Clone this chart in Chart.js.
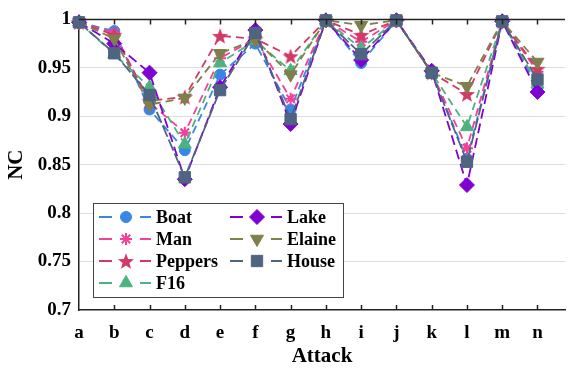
<!DOCTYPE html>
<html>
<head>
<meta charset="utf-8">
<script src="https://cdn.jsdelivr.net/npm/chart.js@4.4.0/dist/chart.umd.min.js"></script>
<style>
  html, body { margin: 0; padding: 0; background: #ffffff; }
  #wrap { width: 575px; height: 369px; position: relative; }
</style>
</head>
<body>
<div id="wrap"><canvas id="ncChart"></canvas></div>
<script>
// ======================================================
// DATA
// ======================================================

const attacks = ["a", "b", "c", "d", "e", "f", "g", "h", "i", "j", "k", "l", "m", "n"];

const boat    = [0.997, 0.988, 0.907, 0.865, 0.943, 0.975, 0.907, 0.999, 0.955, 0.999, 0.945, 0.856, 0.998, 0.930];
const man     = [0.997, 0.986, 0.914, 0.883, 0.960, 0.980, 0.918, 0.999, 0.977, 0.999, 0.945, 0.867, 0.998, 0.946];
const peppers = [0.997, 0.984, 0.916, 0.920, 0.983, 0.980, 0.962, 0.999, 0.984, 0.999, 0.945, 0.923, 0.998, 0.949];
const f16     = [0.997, 0.964, 0.930, 0.871, 0.955, 0.978, 0.947, 0.999, 0.970, 0.999, 0.945, 0.889, 0.998, 0.933];
const lake    = [0.997, 0.975, 0.945, 0.835, 0.930, 0.989, 0.892, 0.999, 0.958, 0.999, 0.947, 0.829, 0.998, 0.925];
const elaine  = [0.997, 0.980, 0.912, 0.919, 0.965, 0.979, 0.943, 0.999, 0.994, 0.999, 0.945, 0.931, 0.998, 0.956];
const house   = [0.997, 0.965, 0.922, 0.837, 0.927, 0.986, 0.897, 0.999, 0.964, 0.999, 0.945, 0.853, 0.998, 0.938];

const yTicks = [0.7, 0.75, 0.8, 0.85, 0.9, 0.95, 1];

// ======================================================
// MARKERS
// ======================================================

function starImage(color) {
    const c = document.createElement("canvas");
    c.width = 18;
    c.height = 18;
    const g = c.getContext("2d");
    g.fillStyle = color;
    g.beginPath();
    for (let i = 0; i < 10; i++) {
        const r = i % 2 === 0 ? 8.5 : 3.6;
        const a = -Math.PI / 2 + i * Math.PI / 5;
        const px = 9 + r * Math.cos(a);
        const py = 9.8 + r * Math.sin(a);
        if (i === 0) g.moveTo(px, py); else g.lineTo(px, py);
    }
    g.closePath();
    g.fill();
    return c;
}

const FONT = "'Liberation Serif', 'Times New Roman', serif";

function series(label, values, color, style, radius, extra) {
    return Object.assign({
        label: label,
        data: values.map(function (v, i) { return { x: i, y: v }; }),
        borderColor: color,
        backgroundColor: color,
        pointBackgroundColor: color,
        pointBorderColor: color,
        borderWidth: 1.8,
        borderDash: [8, 5],
        pointStyle: style,
        pointRadius: radius,
        pointHoverRadius: radius,
        pointBorderWidth: 1,
        tension: 0,
        clip: false
    }, extra || {});
}

const datasets = [
    series("Boat", boat, "#3a86e6", "circle", 5.5),
    series("Man", man, "#f5409a", "star", 6, { pointBorderWidth: 2 }),
    series("Peppers", peppers, "#d13a66", starImage("#d13a66"), 9),
    series("F16", f16, "#4cb37f", "triangle", 7.5),
    series("Lake", lake, "#8000d4", "rectRot", 7.5, { borderDash: [10, 5] }),
    series("Elaine", elaine, "#7f7f4b", "triangle", 7.5, { pointRotation: 180 }),
    series("House", house, "#4e6480", "rect", 8, { borderDash: [12, 3] })
];

// later series drawn on top
datasets.forEach(function (d, i) { d.order = datasets.length - i; });

// ======================================================
// FRAME + LEGEND PLUGIN
// ======================================================

const framePlugin = {
    id: "frame",
    afterDatasetsDraw: function (chart) {
        const ctx = chart.ctx;
        const area = chart.chartArea;
        const xs = chart.scales.x;
        ctx.save();
        ctx.strokeStyle = "#222222";
        ctx.lineWidth = 1.5;
        ctx.beginPath();
        ctx.moveTo(area.left, area.top);
        ctx.lineTo(area.right, area.top);
        attacks.forEach(function (l, i) {
            const px = Math.round(xs.getPixelForValue(i)) + 0.5;
            if (i === 0) return;
            ctx.moveTo(px, area.bottom);
            ctx.lineTo(px, area.bottom - 5);
            ctx.moveTo(px, area.top);
            ctx.lineTo(px, area.top + 5);
        });
        ctx.stroke();
        ctx.restore();
    },
    afterDraw: function (chart) {
        const ctx = chart.ctx;
        const box = { x: 93.5, y: 203.5, w: 250, h: 94 };
        ctx.save();
        ctx.fillStyle = "#ffffff";
        ctx.strokeStyle = "#444444";
        ctx.lineWidth = 1;
        ctx.fillRect(box.x, box.y, box.w, box.h);
        ctx.strokeRect(box.x, box.y, box.w, box.h);

        const cols = [[0, 1, 2, 3], [4, 5, 6]];
        const colX = [99, 230];
        const rowY = [217, 239, 261, 283];
        ctx.font = "bold 18px " + FONT;
        ctx.textBaseline = "middle";
        ctx.textAlign = "left";
        cols.forEach(function (idxs, c) {
            idxs.forEach(function (di, r) {
                const d = chart.data.datasets[di];
                const x0 = colX[c];
                const y = rowY[r];
                ctx.strokeStyle = d.borderColor;
                ctx.lineWidth = 1.8;
                ctx.setLineDash([]);
                ctx.beginPath();
                ctx.moveTo(x0, y);
                ctx.lineTo(x0 + 13, y);
                ctx.moveTo(x0 + 41, y);
                ctx.lineTo(x0 + 52, y);
                ctx.stroke();
                ctx.fillStyle = d.pointBackgroundColor;
                ctx.strokeStyle = d.pointBorderColor;
                ctx.lineWidth = d.pointBorderWidth;
                Chart.helpers.drawPoint(ctx, {
                    pointStyle: d.pointStyle,
                    radius: d.pointRadius,
                    rotation: d.pointRotation || 0,
                    borderWidth: d.pointBorderWidth
                }, x0 + 27, y);
                ctx.fillStyle = "#000000";
                ctx.fillText(d.label, x0 + 57, y + 1);
            });
        });
        ctx.restore();
    }
};

// ======================================================
// CHART
// ======================================================

const canvas = document.getElementById("ncChart");

new Chart(canvas.getContext("2d"), {

    type: "line",

    data: { datasets: datasets },

    options: {
        responsive: true,
        maintainAspectRatio: false,
        animation: false,
        layout: { padding: { top: 13, right: 0, left: 0, bottom: 0 } },
        plugins: {
            legend: { display: false },
            tooltip: { enabled: false }
        },
        scales: {
            x: {
                type: "linear",
                min: 0,
                max: 13.78,
                afterBuildTicks: function (scale) {
                    scale.ticks = attacks.map(function (l, i) { return { value: i }; });
                },
                afterFit: function (scale) { scale.height = 59; },
                ticks: {
                    autoSkip: false,
                    maxRotation: 0,
                    padding: 12,
                    color: "#000000",
                    font: { family: FONT, size: 19, weight: "bold" },
                    callback: function (v) { return attacks[v]; }
                },
                grid: { display: false, drawTicks: false },
                border: { color: "#222222", width: 1.5 },
                title: {
                    display: true,
                    text: "Attack",
                    color: "#000000",
                    padding: { top: 0, bottom: 0 },
                    font: { family: FONT, size: 21, weight: "bold" }
                }
            },
            y: {
                min: 0.7,
                max: 1,
                afterBuildTicks: function (scale) {
                    scale.ticks = yTicks.map(function (v) { return { value: v }; });
                },
                afterFit: function (scale) { scale.width = 79; },
                ticks: {
                    padding: 8,
                    color: "#000000",
                    font: { family: FONT, size: 19, weight: "bold" },
                    callback: function (v) { return String(Number(v.toFixed(2))); }
                },
                grid: {
                    color: function (c) {
                        return (c.tick && (c.tick.value === 1 || c.tick.value === 0.7)) ? "rgba(0,0,0,0)" : "#dddddd";
                    },
                    lineWidth: 1,
                    drawTicks: false
                },
                border: { color: "#222222", width: 1.5 },
                title: {
                    display: true,
                    text: "NC",
                    color: "#000000",
                    padding: { top: 4, bottom: 0 },
                    font: { family: FONT, size: 21, weight: "bold" }
                }
            }
        }
    },

    plugins: [framePlugin]

});
</script>
</body>
</html>
